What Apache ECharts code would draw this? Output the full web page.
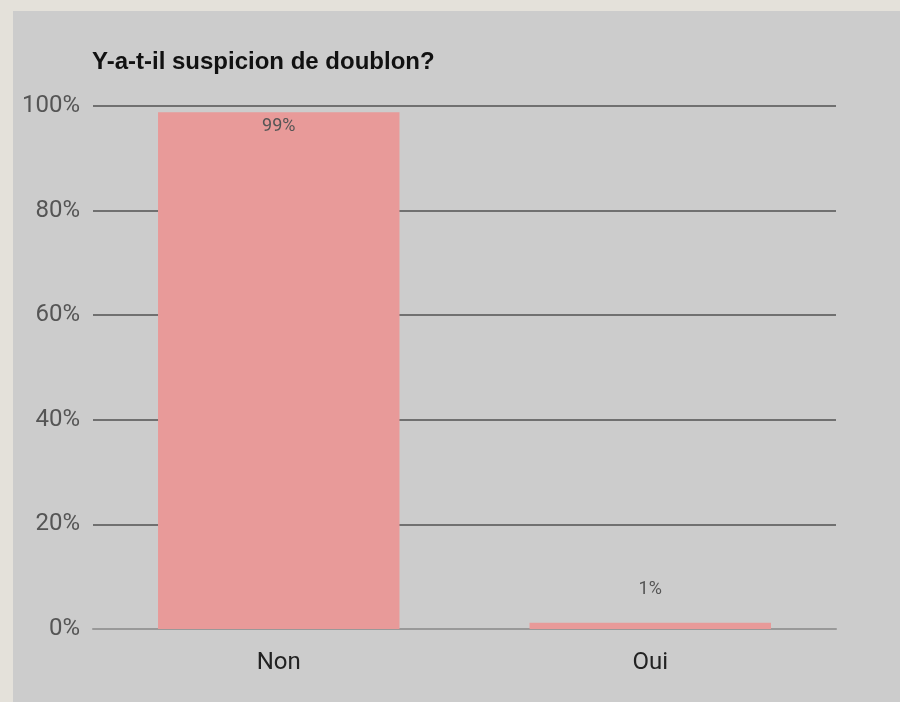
<!DOCTYPE html>
<html>
<head>
<meta charset="utf-8">
<script src="https://cdn.jsdelivr.net/npm/echarts@6/dist/echarts.min.js"></script>
<style>
  html, body { margin: 0; padding: 0; background: #e4e1da; }
  #container { position: absolute; left: 13px; top: 11px; width: 887px; height: 691px; background: #cccccc; }
</style>
</head>
<body>
<div id="container"></div>
<script>
// categories and values (percent)
var categories = ["Non", "Oui"];
var values = [98.8, 1.2];
var valueLabels = ["99%", "1%"];
var yTicks = [0, 20, 40, 60, 80, 100];

var chart = echarts.init(document.getElementById("container"));

var barData = values.map(function (v, i) {
  var item = { value: v };
  if (i === 0) {
    item.label = { position: "insideTop", distance: 5 };
  } else {
    item.label = { position: "top", distance: 24 };
  }
  return item;
});

chart.setOption({
  backgroundColor: "#cccccc",
  animation: false,
  title: {
    text: "Y-a-t-il suspicion de doublon?",
    left: 74,
    top: 34,
    textStyle: {
      fontFamily: "Liberation Sans",
      fontWeight: "bold",
      fontSize: 24,
      color: "#111111"
    }
  },
  grid: { left: 80, right: 64, top: 95, bottom: 73 },
  xAxis: {
    type: "category",
    data: categories,
    axisLine: { lineStyle: { color: "#999999", width: 2 } },
    axisTick: { show: false },
    axisLabel: {
      margin: 22,
      fontFamily: "Roboto",
      fontSize: 24,
      color: "#222222"
    }
  },
  yAxis: {
    type: "value",
    min: yTicks[0],
    max: yTicks[yTicks.length - 1],
    interval: 20,
    axisLine: { show: false },
    axisTick: { show: false },
    axisLabel: {
      margin: 13,
      fontFamily: "Roboto",
      fontSize: 24,
      color: "#555555",
      formatter: "{value}%"
    },
    splitLine: { lineStyle: { color: "#707070", width: 2 } }
  },
  series: [{
    type: "bar",
    data: barData,
    barWidth: "65%",
    itemStyle: { color: "#e89a99" },
    label: {
      show: true,
      fontFamily: "Roboto",
      fontSize: 18,
      color: "#555555",
      formatter: function (p) { return valueLabels[p.dataIndex]; }
    }
  }]
});
</script>
</body>
</html>
